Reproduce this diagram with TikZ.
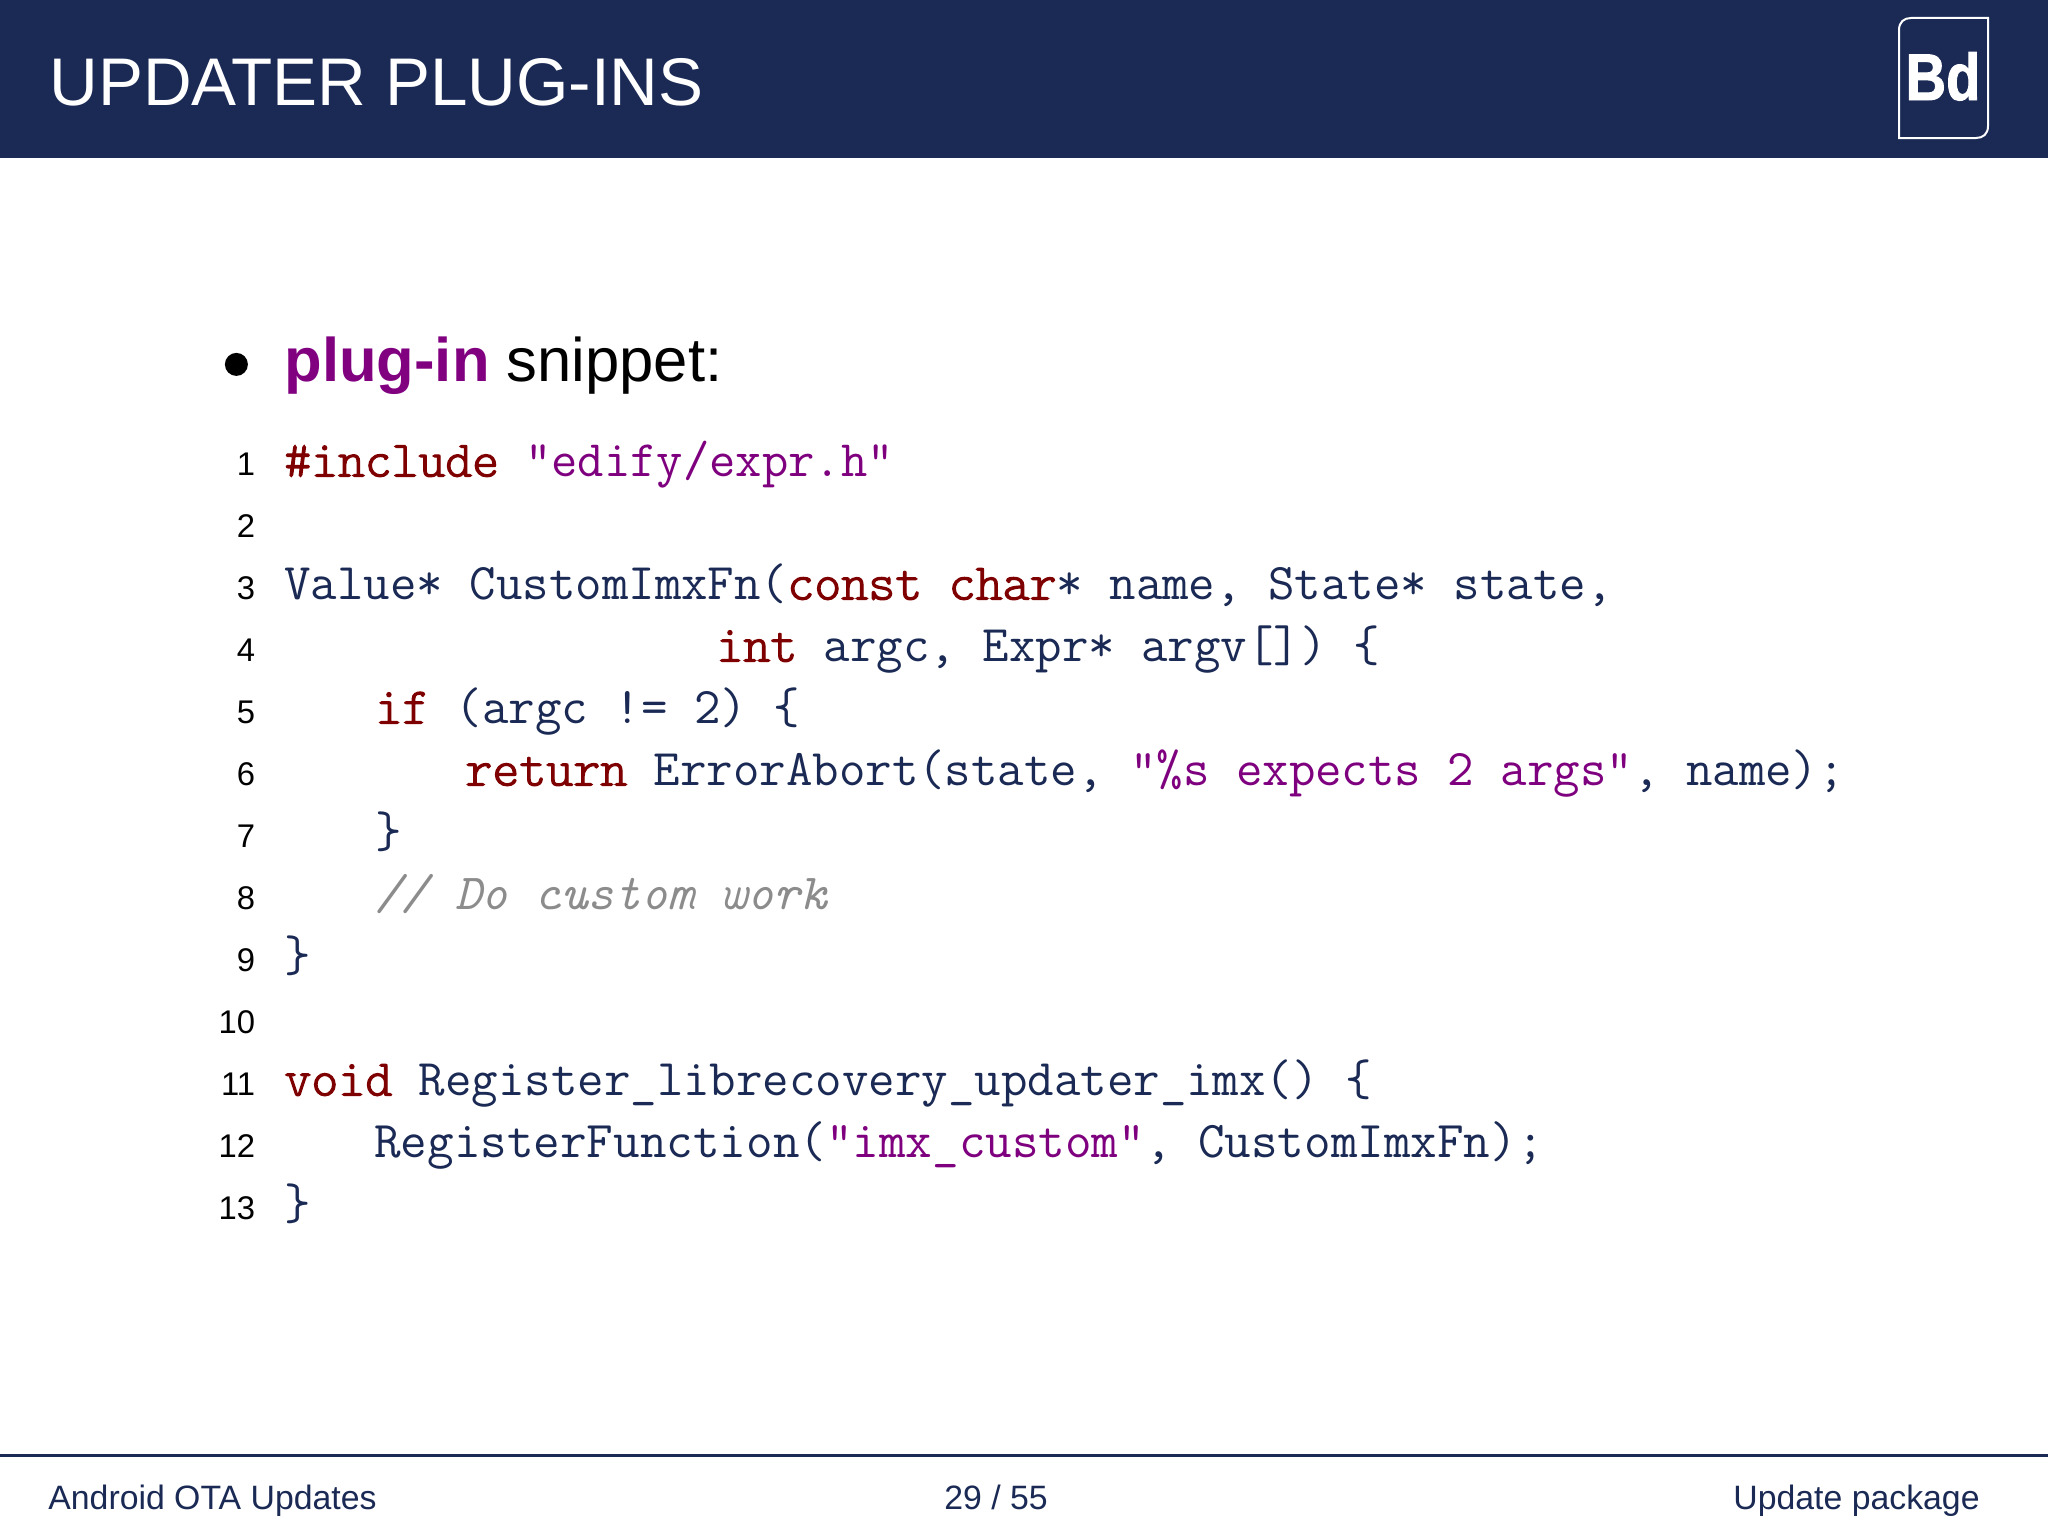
\documentclass[tikz,border=0pt]{standalone}
\usepackage{fontspec}
\setmainfont{Liberation Sans}
\setmonofont[BoldFont={Latin Modern Mono Light},BoldFeatures={FakeBold=2.2}]{Latin Modern Mono}
\usepackage{tikz}
\definecolor{barblue}{HTML}{1A2A55}
\definecolor{plugpurple}{HTML}{800080}
\definecolor{kwred}{HTML}{7F0000}
\definecolor{strpurple}{HTML}{7F007F}
\definecolor{cmtgrey}{HTML}{8C8C8C}
\tikzset{
 codeline/.style={anchor=base west,inner sep=0pt,font=\ttfamily\fontsize{25.7}{26}\selectfont,text=barblue},
 lineno/.style={anchor=base east,inner sep=0pt,font=\fontsize{16.4}{16}\selectfont,text=black},
 footer/.style={inner sep=0pt,font=\fontsize{16.9}{17}\selectfont,text=barblue}
}
\newcommand{\kw}[1]{\textcolor{kwred}{\textbf{#1}}}
\newcommand{\str}[1]{\textcolor{strpurple}{#1}}
\begin{document}
\begin{tikzpicture}[x=1pt,y=-1pt]
 \useasboundingbox (0,0) rectangle (1024,768);
 \fill[barblue] (0,0) rectangle (1024,79);
 \node[anchor=base west,inner sep=0pt,text=white,font=\fontsize{33.7}{34}\selectfont] (title) at (24.5,52.5) {UPDATER PLUG-INS};
 % logo
 \draw[white,line width=1pt] (949.5,15) .. controls (949.5,11) and (952,9) .. (955.5,9) -- (994,9) -- (994,63) .. controls (994,67) and (991.5,69) .. (988,69) -- (949.5,69) -- cycle;
 \node[anchor=base,inner sep=0pt,text=white,xscale=0.85,font=\bfseries\fontsize{33}{33}\selectfont\addfontfeature{FakeBold=1.5}] (logo) at (971.5,50) {Bd};
 \node[circle,fill=black,minimum size=11.5pt,inner sep=0pt] (bullet) at (118.2,182.2) {};
 \node[anchor=base west,inner sep=0pt,font=\fontsize{30.8}{31}\selectfont] (head) at (142,190.5) {\textcolor{plugpurple}{\textbf{plug-in}} snippet:};
 \foreach \n/\y in {1/237.5,2/268.5,3/299.5,4/330.5,5/361.5,6/392.5,7/423.5,8/454.5,9/485.5,10/516.5,11/547.5,12/578.5,13/609.5}
  \node[lineno] (n\n) at (127.8,\y) {\n};
 \node[codeline,font=\ttfamily\fontsize{25.55}{26}\selectfont] (c1) at (142,238.3) {\kw{\#include} \str{"edify/expr.h"}};
 \node[codeline] (c3) at (142,299.8) {Value* CustomImxFn(\kw{const} \kw{char}* name, State* state,};
 \node[codeline] (c4) at (358,330.8) {\kw{int} argc, Expr* argv[]) \{};
 \node[codeline] (c5) at (187.5,361.8) {\kw{if} (argc != 2) \{};
 \node[codeline] (c6) at (232.5,392.8) {\kw{return} ErrorAbort(state, \str{"\%s expects 2 args"}, name);};
 \node[codeline] (c7) at (187.5,423.8) {\}};
 \node[codeline,text=cmtgrey,font=\ttfamily\fontsize{25.3}{26}\selectfont] (c8) at (187.5,454.8) {\textit{// Do custom work}};
 \node[codeline] (c9) at (142,485.8) {\}};
 \node[codeline] (c11) at (142,547.8) {\kw{void} Register\_librecovery\_updater\_imx() \{};
 \node[codeline,font=\ttfamily\fontsize{25.8}{26}\selectfont] (c12) at (187,578.8) {RegisterFunction(\str{"imx\_custom"}, CustomImxFn);};
 \node[codeline] (c13) at (142,609.8) {\}};
 \coordinate (ruleL) at (0,727.5);
 \coordinate (ruleR) at (1024,727.5);
 \draw[barblue,line width=1.5pt] (ruleL) -- (ruleR);
 \node[footer,anchor=base west] (footL) at (24,754.5) {Android OTA Updates};
 \node[footer,anchor=base] (footC) at (498,754.5) {29 / 55};
 \node[footer,anchor=base east] (footR) at (990,754.5) {Update package};
\end{tikzpicture}
\end{document}
